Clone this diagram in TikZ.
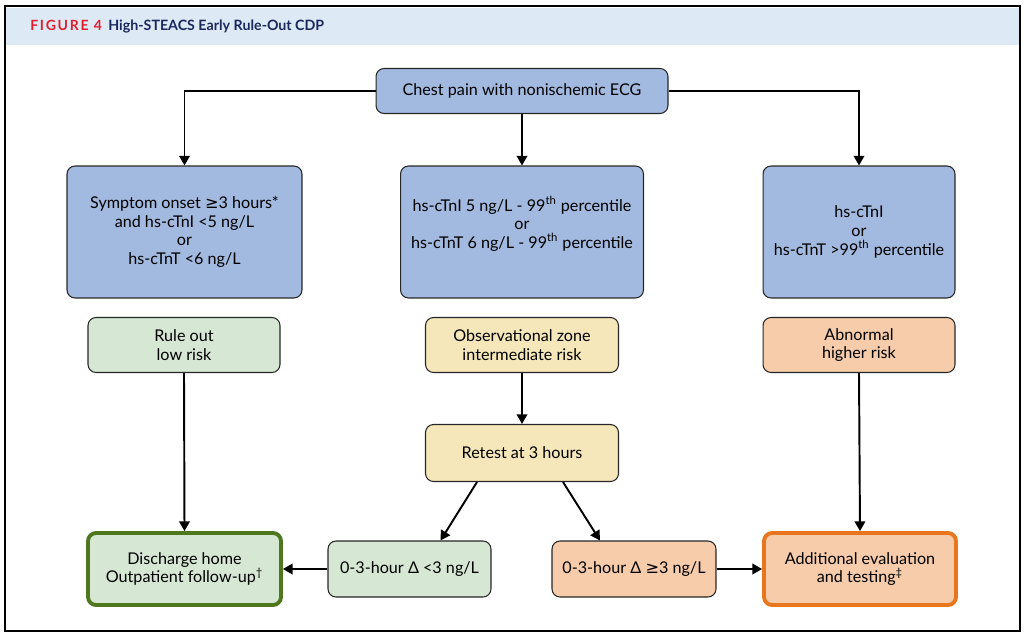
\documentclass[tikz,border=0pt]{standalone}
\usepackage{fontspec}
\setmainfont{Lato}
\newfontfamily\symfont{DejaVu Sans}
\newfontfamily\spacedfont[LetterSpace=12]{Lato}
\usetikzlibrary{arrows.meta}

\definecolor{boxblue}{RGB}{163,186,224}
\definecolor{boxgreen}{RGB}{214,232,212}
\definecolor{boxyellow}{RGB}{245,231,186}
\definecolor{boxpeach}{RGB}{246,204,170}
\definecolor{darkgreen}{RGB}{79,120,30}
\definecolor{darkorange}{RGB}{232,118,30}
\definecolor{headband}{RGB}{222,233,246}
\definecolor{figred}{RGB}{224,32,46}
\definecolor{navy}{RGB}{27,40,92}

\newcommand{\geqsym}{{\symfont ≥}}

\begin{document}
\begin{tikzpicture}[x=0.02cm,y=-0.02cm,
    box/.style={draw=black!85, line width=0.6pt, rounded corners=0.16cm,
        align=center, inner sep=0pt, font=\fontsize{9.2}{10.6}\selectfont},
    bluebox/.style={box, fill=boxblue},
    greenbox/.style={box, fill=boxgreen},
    yellowbox/.style={box, fill=boxyellow},
    peachbox/.style={box, fill=boxpeach},
    arr/.style={-{Triangle[length=5.5pt,width=6pt]}, line width=1.1pt}
]
    \useasboundingbox (0,0) rectangle (1024,635);

    % Frame and header
    \fill[headband] (6,8) rectangle (1019,45);
    \draw[line width=0.9pt] (5,6) rectangle (1020,631);
    \node[anchor=base west, inner sep=0pt, text=figred, font=\spacedfont\bfseries\fontsize{8}{9}\selectfont] (figlabel) at (30,31) {FIGURE 4};
    \node[anchor=base west, inner sep=0pt, text=navy, font=\bfseries\fontsize{8.1}{9}\selectfont] (figtitle) at (108,31) {High-STEACS Early Rule-Out CDP};

    % Start
    \node[bluebox, minimum width=5.84cm, minimum height=0.9cm] (chest) at (522,91) {Chest pain with nonischemic ECG};

    % Troponin levels
    \node[bluebox, minimum width=4.7cm, minimum height=2.64cm] (onset) at (184.5,232)
        {Symptom onset \geqsym3 hours*\\and hs-cTnI <5 ng/L\\or\\hs-cTnT <6 ng/L};
    \node[bluebox, minimum width=4.86cm, minimum height=2.64cm] (between) at (522,232)
        {hs-cTnI 5 ng/L - 99\textsuperscript{th} percentile\\or\\hs-cTnT 6 ng/L - 99\textsuperscript{th} percentile\\[0.02cm]};
    \node[bluebox, minimum width=3.84cm, minimum height=2.64cm] (above) at (859,232)
        {hs-cTnI\\or\\hs-cTnT >99\textsuperscript{th} percentile};

    % Risk groups
    \node[greenbox, minimum width=3.84cm, minimum height=1.1cm] (ruleout) at (184,345) {Rule out\\low risk};
    \node[yellowbox, minimum width=3.86cm, minimum height=1.1cm] (observe) at (522,345) {Observational zone\\intermediate risk};
    \node[peachbox, minimum width=3.84cm, minimum height=1.1cm] (abnormal) at (859,345) {Abnormal\\higher risk};

    % Retest
    \node[yellowbox, minimum width=3.86cm, minimum height=1.14cm] (retest) at (522,453) {Retest at 3 hours};

    % Outcomes
    \node[greenbox, draw=darkgreen, line width=2.2pt, minimum width=3.86cm, minimum height=1.44cm] (discharge) at (184.5,569)
        {Discharge home\\Outpatient follow-up\textsuperscript{\dag}};
    \node[greenbox, minimum width=3.26cm, minimum height=1.12cm] (lowdelta) at (409.5,569) {0-3-hour Δ <3 ng/L};
    \node[peachbox, minimum width=3.28cm, minimum height=1.12cm] (highdelta) at (634,569) {0-3-hour Δ \geqsym3 ng/L};
    \node[peachbox, draw=darkorange, line width=2.2pt, minimum width=3.84cm, minimum height=1.44cm] (additional) at (860,569)
        {Additional evaluation\\and testing\textsuperscript{\ddag}};

    % Arrows
    \draw[arr] (chest.west) -| (onset.north);
    \draw[arr] (chest.east) -| (above.north);
    \draw[arr] (chest.south) -- (between.north);
    \draw[arr] (ruleout.south) -- (discharge.north);
    \draw[arr] (abnormal.south) -- (additional.north);
    \draw[arr] (observe.south) -- (retest.north);
    \draw[arr] ([xshift=-0.9cm]retest.south) -- ([xshift=0.62cm]lowdelta.north);
    \draw[arr] ([xshift=0.82cm]retest.south) -- ([xshift=-0.68cm]highdelta.north);
    \draw[arr] (lowdelta.west) -- (discharge.east);
    \draw[arr] (highdelta.east) -- (additional.west);
\end{tikzpicture}
\end{document}
